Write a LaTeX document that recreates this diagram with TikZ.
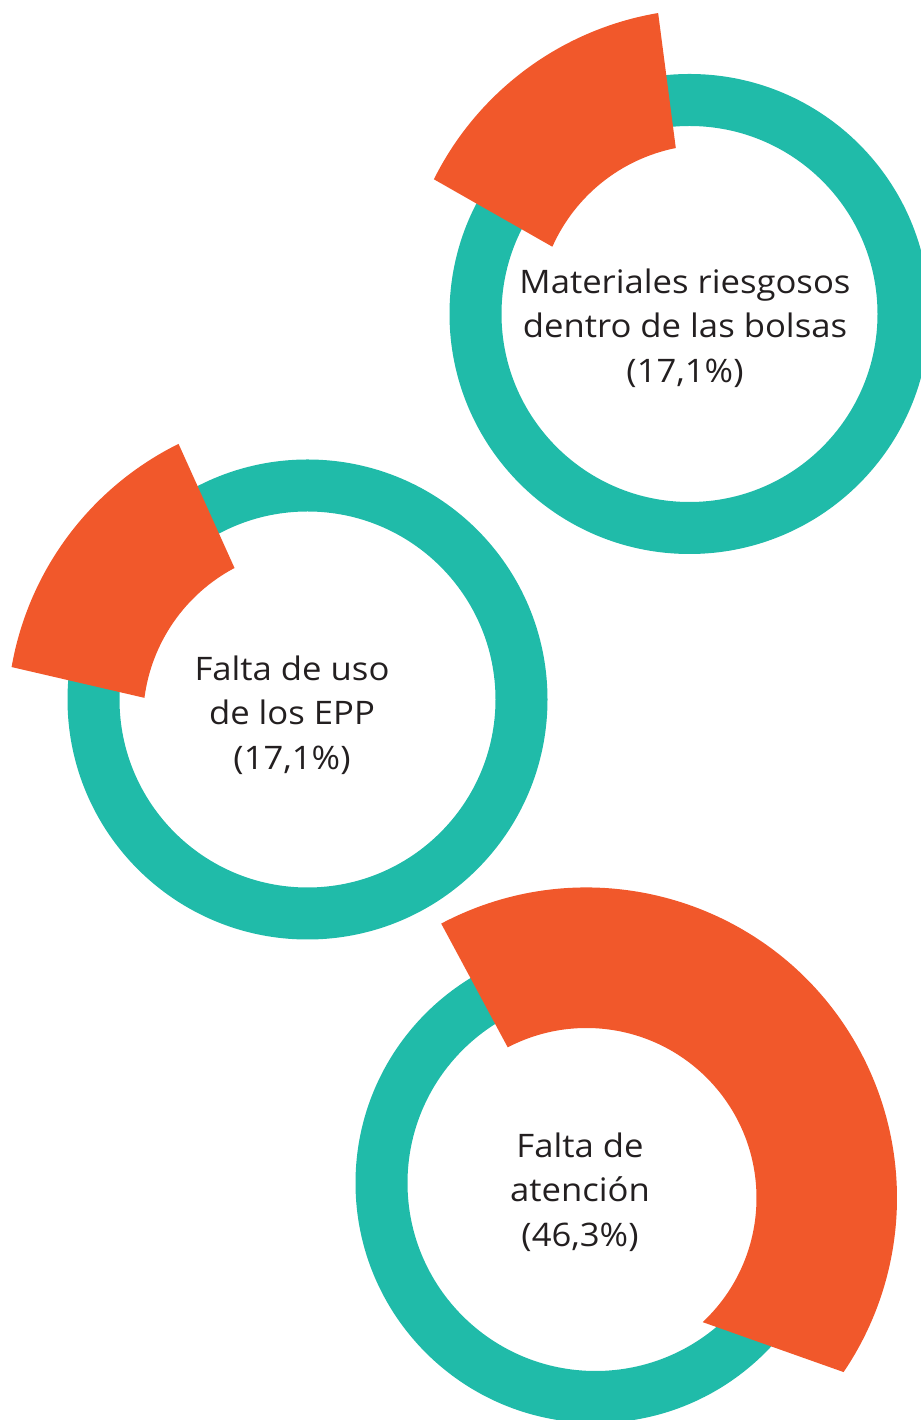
\documentclass[tikz,border=0pt]{standalone}
\usepackage{fontspec}
\setmainfont{Open Sans}[FakeStretch=1.07]
\usetikzlibrary{calc}
\definecolor{ringteal}{HTML}{20BBA9}
\definecolor{sliceorange}{HTML}{F1582B}
\definecolor{textgrey}{HTML}{231F20}
\tikzset{ring/.style={fill=ringteal, even odd rule},
	slice/.style={fill=sliceorange},
	donuttext/.style={align=center, inner sep=0pt, text=textgrey, font=\fontsize{16.2}{22.2}\selectfont}}

\begin{document}
\begin{tikzpicture}[x=0.5pt, y=0.5pt]
\useasboundingbox (0,0) rectangle (921,1420);
% ring centres and slice centres
\coordinate (t1) at (689.5,1106);
\coordinate (t2) at (307.5,720.5);
\coordinate (t3) at (595.5,237);
\coordinate (o1) at (709.5,1103.3);
\coordinate (o2) at (315,700);
\coordinate (o3) at (586.5,222);
\fill[ring] (t1) circle (240) (t1) circle (188); % top ring
\fill[ring] (t2) circle (240) (t2) circle (188); % middle ring
\fill[ring] (t3) circle (240) (t3) circle (188); % bottom ring
\fill[slice] ($(o1)+(101.3:172)$) -- ($(o1)+(99.6:308)$) arc[start angle=99.6, end angle=153.5, radius=308] -- ($(o1)+(156:172)$) arc[start angle=156, end angle=101.3, radius=172] -- cycle; % 17,1 top
\fill[slice] ($(o2)+(117.9:172)$) -- ($(o2)+(116.3:308)$) arc[start angle=116.3, end angle=170.1, radius=308] -- ($(o2)+(172.6:172)$) arc[start angle=172.6, end angle=117.9, radius=172] -- cycle; % 17,1 middle
\fill[slice] ($(o3)+(117.6:170)$) -- ($(o3)+(117.9:310.5)$) arc[start angle=117.9, end angle=-34.1, radius=310.5] -- ($(o3)+(-46.9:170)$) arc[start angle=-46.9, end angle=117.6, radius=170] -- cycle; % 46,3
\node[donuttext] (bolsas) at (685,1092) {Materiales riesgosos\\dentro de las bolsas\\(17,1\%)};
\node[donuttext] (epp) at (292,705) {Falta de uso\\de los EPP\\(17,1\%)};
\node[donuttext] (atencion) at (580,228) {Falta de\\atención\\(46,3\%)};
\end{tikzpicture}
\end{document}
